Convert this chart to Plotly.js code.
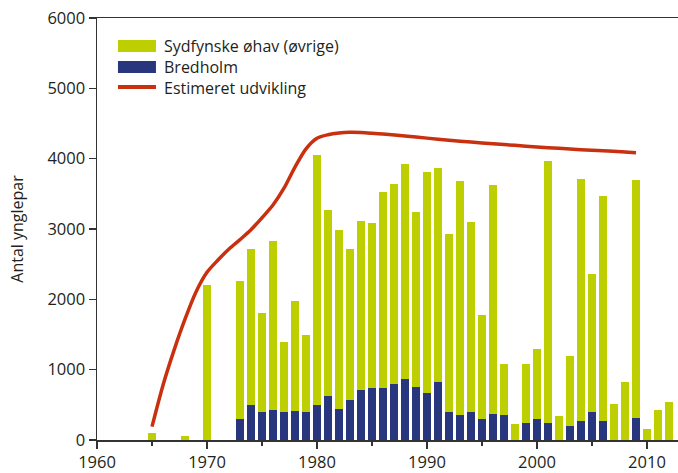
<!DOCTYPE html>
<html>
<head>
<meta charset="utf-8">
<script src="https://cdn.plot.ly/plotly-3.0.1.min.js"></script>
<style>html,body{margin:0;padding:0;background:#fff;}#chart{width:678px;height:473px;}</style>
</head>
<body>
<div id="chart"></div>
<script>
const years = [1965,1968,1970,1973,1974,1975,1976,1977,1978,1979,1980,1981,1982,1983,1984,1985,1986,1987,1988,1989,1990,1991,1992,1993,1994,1995,1996,1997,1998,1999,2000,2001,2002,2003,2004,2005,2006,2007,2008,2009,2010,2011,2012];
const bredholm = [0,0,0,303,502,398,427,398,412,398,498,630,441,569,711,744,744,796,867,754,668,825,398,355,398,299,370,355,0,242,299,242,0,199,270,398,270,0,0,313,0,0,0];
const sydfynske = [100,60,2210,1962,2218,1412,2407,1000,1564,1095,3559,2640,2545,2147,2403,2341,2782,2844,3057,2488,3143,3043,2531,3328,2702,1478,3256,726,228,839,995,3725,341,995,3441,1962,3199,512,825,3384,156,427,540];
const trendYears = [1965,1966,1967,1968,1969,1970,1971,1972,1973,1974,1975,1976,1977,1978,1979,1980,1981,1982,1983,1984,1985,1986,1988,1990,1992,1994,1996,1998,2000,2002,2004,2006,2008,2009];
const trendValues = [190,780,1275,1718,2105,2384,2559,2716,2848,2988,3160,3341,3580,3880,4140,4290,4340,4365,4375,4372,4362,4350,4322,4292,4262,4236,4211,4189,4167,4147,4128,4112,4095,4085];
const seriesNames = ['Sydfynske øhav (øvrige)','Bredholm','Estimeret udvikling'];
const xTicks = [1960,1970,1980,1990,2000,2010];
const yTicks = [0,1000,2000,3000,4000,5000,6000];

const GREEN = '#bdcf00', BLUE = '#28377d', RED = '#c8300f', TXT = '#231f20';
const FONT = '"Open Sans", sans-serif';
const FS = 16.5;
const LFS = 16;

const traces = [
  {type:'bar', x:years, y:bredholm, name:seriesNames[1], width:0.64, marker:{color:BLUE, line:{width:0}}},
  {type:'bar', x:years, y:sydfynske, name:seriesNames[0], width:0.64, marker:{color:GREEN, line:{width:0}}},
  {type:'scatter', mode:'lines', x:trendYears, y:trendValues, name:seriesNames[2], line:{color:RED, width:3.5, shape:'spline', smoothing:0.8}}
];

const L = {x0:0.0361, x1:0.1015, tx:0.1136};
const layout = {
  width:678, height:473,
  margin:{l:97, r:0, t:18, b:33},
  paper_bgcolor:'#fff', plot_bgcolor:'#fff',
  barmode:'stack', bargap:0,
  showlegend:false,
  font:{family:FONT, size:FS, color:TXT},
  xaxis:{range:[1960,2012.82], tickvals:xTicks, ticks:'outside', ticklen:7, tickwidth:1.3, tickcolor:'#333',
         showline:true, linecolor:'#333', linewidth:1.5, mirror:true, showgrid:false, zeroline:false,
         minor:{dtick:5, tick0:1960, ticks:'outside', ticklen:4, tickwidth:1.3, tickcolor:'#333', showgrid:false},
         tickfont:{family:FONT, size:FS, color:TXT}},
  yaxis:{range:[0,6000], tickvals:yTicks, ticks:'outside', ticklen:7, tickwidth:1.3, tickcolor:'#333',
         showline:true, linecolor:'#333', linewidth:1.5, showgrid:false, zeroline:false,
         tickfont:{family:FONT, size:FS, color:TXT},
         title:{text:'Antal ynglepar', font:{family:FONT, size:16, color:TXT}, standoff:20}},
  shapes:[
    {type:'rect', xref:'paper', yref:'paper', x0:L.x0, x1:L.x1, y0:0.9194, y1:0.9479, fillcolor:GREEN, line:{width:0}},
    {type:'rect', xref:'paper', yref:'paper', x0:L.x0, x1:L.x1, y0:0.8697, y1:0.8981, fillcolor:BLUE, line:{width:0}},
    {type:'line', xref:'paper', yref:'paper', x0:L.x0, x1:L.x1, y0:0.8365, y1:0.8365, line:{color:RED, width:4}}
  ],
  annotations:[
    {xref:'paper', yref:'paper', x:L.tx, y:0.9336, xanchor:'left', yanchor:'middle', borderpad:0, text:seriesNames[0], showarrow:false, font:{family:FONT, size:LFS, color:TXT}},
    {xref:'paper', yref:'paper', x:L.tx, y:0.8839, xanchor:'left', yanchor:'middle', borderpad:0, text:seriesNames[1], showarrow:false, font:{family:FONT, size:LFS, color:TXT}},
    {xref:'paper', yref:'paper', x:L.tx, y:0.8341, xanchor:'left', yanchor:'middle', borderpad:0, text:seriesNames[2], showarrow:false, font:{family:FONT, size:LFS, color:TXT}}
  ]
};
Plotly.newPlot('chart', traces, layout, {displayModeBar:false, staticPlot:true});
</script>
</body>
</html>
